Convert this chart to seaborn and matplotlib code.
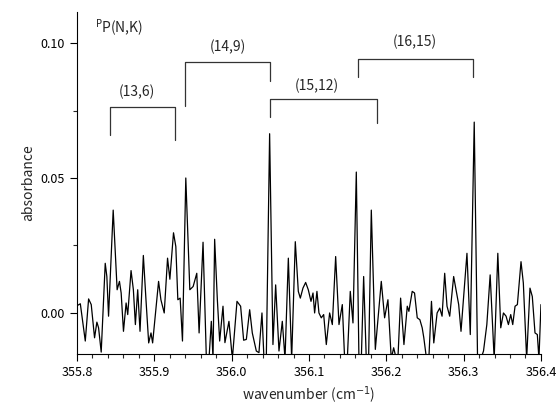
import matplotlib
matplotlib.use("Agg")
import matplotlib.pyplot as plt
import pandas as pd
import seaborn as sns
from matplotlib.ticker import MultipleLocator

# spectrum vertices (values below the axis are clipped)
wavenumber = [
    355.8000, 355.8043, 355.8107, 355.8150, 355.8184, 355.8227, 355.8257, 355.8279,
    355.8313, 355.8365, 355.8386, 355.8408, 355.8468, 355.8519, 355.8549, 355.8571,
    355.8601, 355.8635, 355.8656, 355.8699, 355.8729, 355.8755, 355.8785, 355.8815,
    355.8858, 355.8892, 355.8927, 355.8957, 355.8978, 355.9055, 355.9085, 355.9128,
    355.9171, 355.9201, 355.9248, 355.9278, 355.9304, 355.9334, 355.9364, 355.9407,
    355.9459, 355.9502, 355.9549, 355.9579, 355.9630, 355.9673, 355.9707, 355.9737,
    355.9759, 355.9780, 355.9815, 355.9845, 355.9888, 355.9913, 355.9965, 356.0009,
    356.0069, 356.0116, 356.0155, 356.0190, 356.0233, 356.0267, 356.0319, 356.0353,
    356.0392, 356.0418, 356.0448, 356.0491, 356.0534, 356.0569, 356.0612, 356.0655,
    356.0690, 356.0733, 356.0776, 356.0823, 356.0862, 356.0888, 356.0922, 356.0957,
    356.0991, 356.1026, 356.1052, 356.1073, 356.1103, 356.1129, 356.1159, 356.1190,
    356.1224, 356.1267, 356.1302, 356.1345, 356.1388, 356.1431, 356.1461, 356.1496,
    356.1534, 356.1569, 356.1612, 356.1646, 356.1677, 356.1707, 356.1741, 356.1771,
    356.1806, 356.1858, 356.1892, 356.1935, 356.1978, 356.2021, 356.2064, 356.2095,
    356.2129, 356.2150, 356.2185, 356.2228, 356.2271, 356.2292, 356.2335, 356.2365,
    356.2400, 356.2434, 356.2464, 356.2485, 356.2520, 356.2550, 356.2584, 356.2614,
    356.2657, 356.2691, 356.2721, 356.2755, 356.2785, 356.2820, 356.2871, 356.2906,
    356.2936, 356.2966, 356.3043, 356.3086, 356.3137, 356.3180, 356.3223, 356.3257,
    356.3300, 356.3343, 356.3395, 356.3442, 356.3480, 356.3515, 356.3549, 356.3579,
    356.3609, 356.3635, 356.3665, 356.3695, 356.3742, 356.3772, 356.3815, 356.3858,
    356.3888, 356.3923, 356.3953, 356.3974, 356.4000,
]
absorbance = [
    0.0027, 0.0034, -0.0104, 0.0052, 0.0031, -0.0092, -0.0034, -0.0055,
    -0.0145, 0.0184, 0.0135, -0.0012, 0.0381, 0.0086, 0.0117, 0.0074,
    -0.0068, 0.0037, -0.0006, 0.0157, 0.0086, -0.0043, 0.0086, -0.0068,
    0.0213, 0.0049, -0.0111, -0.0074, -0.0111, 0.0117, 0.0049, 0.0000,
    0.0203, 0.0125, 0.0297, 0.0246, 0.0049, 0.0055, -0.0104, 0.0500,
    0.0086, 0.0098, 0.0147, -0.0074, 0.0262, -0.0170, -0.0170, -0.0031,
    -0.0170, 0.0273, 0.0049, -0.0104, 0.0025, -0.0110, -0.0031, -0.0170,
    0.0043, 0.0025, -0.0101, -0.0098, 0.0012, -0.0074, -0.0141, -0.0147,
    0.0000, -0.0170, -0.0170, 0.0664, -0.0117, 0.0104, -0.0141, -0.0031,
    -0.0170, 0.0203, -0.0170, 0.0264, 0.0080, 0.0055, 0.0092, 0.0113,
    0.0086, 0.0043, 0.0074, 0.0000, 0.0080, 0.0000, -0.0018, -0.0006,
    -0.0117, 0.0000, -0.0043, 0.0209, -0.0043, 0.0031, -0.0170, -0.0170,
    0.0080, -0.0037, 0.0522, -0.0170, -0.0170, 0.0135, -0.0170, -0.0170,
    0.0381, -0.0135, -0.0025, 0.0117, -0.0018, 0.0049, -0.0170, -0.0129,
    -0.0170, -0.0170, 0.0055, -0.0117, 0.0025, 0.0006, 0.0080, 0.0074,
    -0.0018, -0.0025, -0.0055, -0.0092, -0.0170, -0.0170, 0.0043, -0.0111,
    0.0000, 0.0018, -0.0012, 0.0147, 0.0025, -0.0012, 0.0135, 0.0080,
    0.0031, -0.0068, 0.0221, -0.0080, 0.0707, -0.0170, -0.0170, -0.0141,
    -0.0043, 0.0141, -0.0170, 0.0221, -0.0055, 0.0000, -0.0012, -0.0043,
    -0.0006, -0.0043, 0.0025, 0.0031, 0.0190, 0.0111, -0.0170, 0.0092,
    0.0061, -0.0074, -0.0080, -0.0170, 0.0031,
]

# band assignments (N,K): bracket ends and heights
band_labels = ["(13,6)", "(14,9)", "(15,12)", "(16,15)"]
band_start = [355.8423, 355.9393, 356.0493, 356.1630]
band_end = [355.9264, 356.0493, 356.1877, 356.3127]
band_top = [0.0763, 0.0930, 0.0793, 0.0941]
band_left_foot = [0.0659, 0.0767, 0.0726, 0.0874]
band_right_foot = [0.0641, 0.0859, 0.0704, 0.0874]
band_label_x = [355.877, 355.995, 356.110, 356.237]
band_label_y = [0.0819, 0.0985, 0.0841, 0.1004]

sns.set_style("ticks")
plt.rcParams["font.family"] = ["Noto Sans CJK JP", "DejaVu Sans"]

df = pd.DataFrame({"wavenumber": wavenumber, "absorbance": absorbance})

fig = plt.figure(figsize=(5.6, 4.09), dpi=100)
ax = fig.add_axes([0.1375, 0.1345, 0.8285, 0.8362])

sns.lineplot(data=df, x="wavenumber", y="absorbance", estimator=None,
             sort=False, color="black", linewidth=0.9, ax=ax)

for lab, x0, x1, top, lf, rf, lx, ly in zip(band_labels, band_start, band_end, band_top,
                                           band_left_foot, band_right_foot,
                                           band_label_x, band_label_y):
    ax.plot([x0, x0, x1, x1], [lf, top, top, rf], color="#333333", linewidth=0.9)
    ax.text(lx, ly, lab, ha="center", va="center", fontsize=10)

ax.text(355.823, 0.1056, r"$^{\mathrm{P}}$P(N,K)", ha="left", va="center", fontsize=10)

ax.set_xlim(355.8, 356.4)
ax.set_ylim(-0.0152, 0.1115)
ax.xaxis.set_major_locator(MultipleLocator(0.1))
ax.xaxis.set_minor_locator(MultipleLocator(0.02))
ax.yaxis.set_major_locator(MultipleLocator(0.05))
ax.yaxis.set_minor_locator(MultipleLocator(0.025))
ax.set_xticks([355.8, 355.9, 356.0, 356.1, 356.2, 356.3, 356.4])
ax.set_xticklabels(["355.8", "355.9", "356.0", "356.1", "356.2", "356.3", "356.4"])
ax.set_yticks([0.0, 0.05, 0.10])
ax.set_yticklabels(["0.00", "0.05", "0.10"])
ax.tick_params(axis="both", which="major", direction="out", length=5, width=0.8,
               labelsize=9, colors="black")
ax.tick_params(axis="both", which="minor", direction="out", length=3, width=0.8)
ax.set_xlabel("wavenumber (cm$^{-1}$)", fontsize=10)
ax.set_ylabel("absorbance", fontsize=10)
sns.despine(ax=ax)
for sp in ["left", "bottom"]:
    ax.spines[sp].set_color("black")
    ax.spines[sp].set_linewidth(0.8)

fig.savefig("out.png", dpi=100)
